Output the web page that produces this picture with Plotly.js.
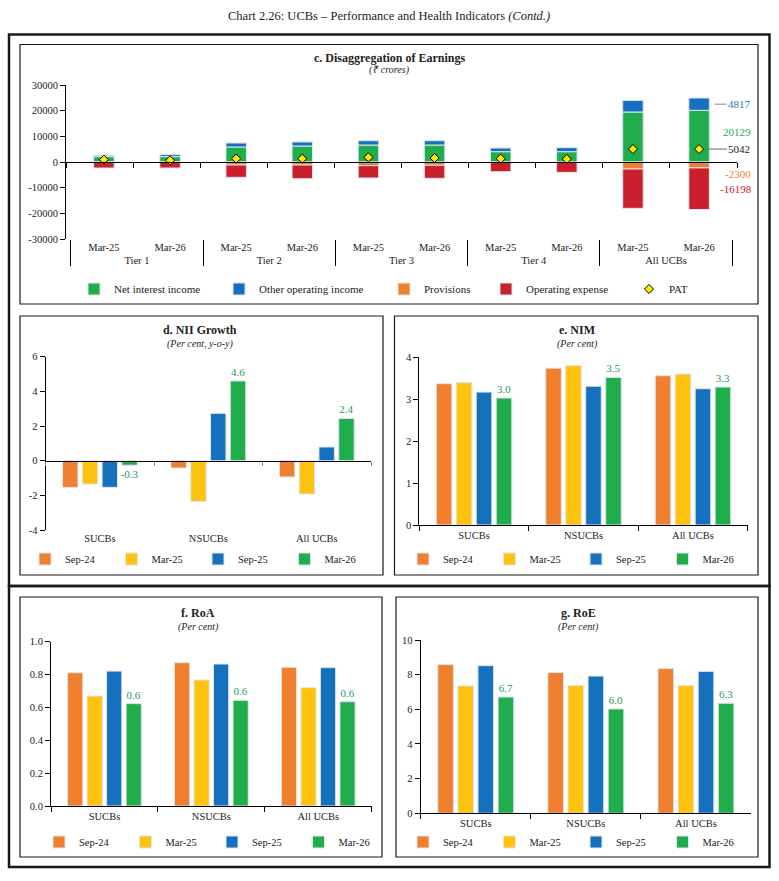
<!DOCTYPE html>
<html>
<head>
<meta charset="utf-8">
<script src="https://cdn.plot.ly/plotly-3.0.1.min.js"></script>
<style>html,body{margin:0;padding:0;background:#fff}#chart{width:779px;height:881px}</style>
</head>
<body>
<div id="chart"></div>
<script>
// ---------- DATA ----------
// Panel c: Disaggregation of Earnings (₹ crore)
const tiers   = ['Tier 1','Tier 1','Tier 2','Tier 2','Tier 3','Tier 3','Tier 4','Tier 4','All UCBs','All UCBs'];
const periods = ['Mar-25','Mar-26','Mar-25','Mar-26','Mar-25','Mar-26','Mar-25','Mar-26','Mar-25','Mar-26'];
const netInterestIncome    = [2080, 2080, 5850, 6230, 6620, 6620, 4030, 4030, 19480, 20129];
const otherOperatingIncome = [520, 780, 1550, 1570, 1680, 1680, 1420, 1550, 4520, 4817];
const provisions           = [-120, -120, -1170, -1170, -1430, -1300, -200, -200, -2730, -2300];
const operatingExpense     = [-2220, -2220, -4800, -5330, -4800, -5060, -3570, -3830, -15320, -16198];
const pat                  = [910, 650, 1300, 1300, 1820, 1560, 1300, 1170, 5060, 5042];
const cTickVals = [-30000,-20000,-10000,0,10000,20000,30000];
const cTickText = ['-30000','-20000','-10000','0','10000','20000','30000'];

// Panels d-g
const groups = ['SUCBs','NSUCBs','All UCBs'];
const seriesNames = ['Sep-24','Mar-25','Sep-25','Mar-26'];
const niiSep24 = [-1.54, -0.42, -0.94];
const niiMar25 = [-1.35, -2.35, -1.92];
const niiSep25 = [-1.54, 2.73, 0.79];
const niiMar26 = [-0.26, 4.6, 2.44];
const nimSep24 = [3.37, 3.74, 3.56];
const nimMar25 = [3.40, 3.80, 3.60];
const nimSep25 = [3.17, 3.31, 3.25];
const nimMar26 = [3.03, 3.52, 3.29];
const roaSep24 = [0.811, 0.872, 0.844];
const roaMar25 = [0.669, 0.767, 0.720];
const roaSep25 = [0.821, 0.864, 0.842];
const roaMar26 = [0.623, 0.643, 0.635];
const roeSep24 = [8.58, 8.12, 8.35];
const roeMar25 = [7.35, 7.38, 7.37];
const roeSep25 = [8.52, 7.92, 8.19];
const roeMar26 = [6.71, 6.02, 6.35];
const dTickVals = [-4,-2,0,2,4,6];
const dTickText = ['-4','-2','0','2','4','6'];

// ---------- STYLE ----------
const W = 779, H = 881;
const FONT = 'Liberation Serif, Times New Roman, serif';
const C = {green:'#1fae4b', blue:'#1570be', orange:'#f07f2e', red:'#c9202c', yellow:'#ffc20e', label:'#1f9d55'};
const seriesColors = [C.orange, C.yellow, C.blue, C.green];
const X = p => p / W;
const Y = p => 1 - p / H;
const barLine = {color:'#dde5ee', width:1};

// ---------- TRACES ----------
const xc = [tiers, periods];
const traces = [
  {type:'bar', name:'Net interest income', x:xc, y:netInterestIncome, base:0, offsetgroup:'c', width:0.31,
   marker:{color:C.green, line:barLine}, legend:'legend', hoverinfo:'skip'},
  {type:'bar', name:'Other operating income', x:xc, y:otherOperatingIncome, base:netInterestIncome, offsetgroup:'c', width:0.31,
   marker:{color:C.blue, line:barLine}, legend:'legend6', hoverinfo:'skip'},
  {type:'bar', name:'Provisions', x:xc, y:provisions, base:0, offsetgroup:'c', width:0.31,
   marker:{color:C.orange, line:barLine}, legend:'legend7', hoverinfo:'skip'},
  {type:'bar', name:'Operating expense', x:xc, y:operatingExpense, base:provisions, offsetgroup:'c', width:0.31,
   marker:{color:C.red, line:barLine}, legend:'legend8', hoverinfo:'skip'},
  {type:'scatter', mode:'markers', name:'PAT', x:xc, y:pat,
   marker:{symbol:'diamond', size:7, color:'#ffe800', line:{color:'#000', width:1}}, legend:'legend9', hoverinfo:'skip'},
  // helper traces that carry the zero-line axes of panels c and d
  {type:'scatter', mode:'lines', x:[0, tiers.length], y:[0,0], xaxis:'x6', yaxis:'y',
   line:{width:0}, opacity:0, showlegend:false, hoverinfo:'skip'},
  {type:'scatter', mode:'lines', x:[0, groups.length], y:[0,0], xaxis:'x7', yaxis:'y2',
   line:{width:0}, opacity:0, showlegend:false, hoverinfo:'skip'}
];

function panel(vals, xa, ya, lg){
  vals.forEach((v, i) => {
    const last = i === vals.length - 1;
    traces.push({
      type:'bar', name:seriesNames[i], x:groups, y:v, xaxis:xa, yaxis:ya, legend:lg,
      marker:{color:seriesColors[i], line:barLine},
      text: last ? v.map(n => n.toFixed(1)) : null,
      textposition: last ? 'outside' : 'none',
      textfont:{family:FONT, size:11, color:C.label},
      constraintext:'none', cliponaxis:false, hoverinfo:'skip'
    });
  });
}
panel([niiSep24, niiMar25, niiSep25, niiMar26], 'x2', 'y2', 'legend2');
panel([nimSep24, nimMar25, nimSep25, nimMar26], 'x3', 'y3', 'legend3');
panel([roaSep24, roaMar25, roaSep25, roaMar26], 'x4', 'y4', 'legend4');
panel([roeSep24, roeMar25, roeSep25, roeMar26], 'x5', 'y5', 'legend5');

// ---------- AXES ----------
const tf = {family:FONT, size:10.5, color:'#222'};
function yax(dom, extra){
  return Object.assign({domain:dom, showline:true, linecolor:'#000', linewidth:1, ticks:'outside', ticklen:5,
    tickcolor:'#000', showgrid:false, zeroline:false, tickfont:tf, fixedrange:true}, extra);
}
function xcat(dom, anchor, extra){
  return Object.assign({domain:dom, anchor:anchor, type:'category', showgrid:false, zeroline:false, tickfont:tf,
    showline:true, linecolor:'#000', linewidth:1, ticks:'outside', tickson:'boundaries', ticklen:5, tickcolor:'#000', fixedrange:true}, extra);
}
const cDomY = [Y(239), Y(85)];
const dDomY = [Y(530), Y(356.7)];
const cZero = cDomY[0] + (cDomY[1]-cDomY[0]) * (0 - (-30000)) / 60000;
const dZero = dDomY[0] + (dDomY[1]-dDomY[0]) * (0 - (-4)) / 10;
const catBounds = n => Array.from({length:n+1}, (_, i) => i);

const layout = {
  width:W, height:H, margin:{l:0, r:0, t:0, b:0},
  paper_bgcolor:'#fff', plot_bgcolor:'rgba(0,0,0,0)',
  font:{family:FONT, color:'#222'},
  barmode:'group', bargap:0.27, bargroupgap:0.22,
  xaxis: {domain:[X(66), X(737)], anchor:'y', type:'multicategory', showgrid:false, zeroline:false, showline:false,
          ticks:'', showdividers:true, dividercolor:'#000', dividerwidth:1, tickfont:tf, fixedrange:true},
  yaxis: yax(cDomY, {anchor:'x', range:[-30000,30000], tickvals:cTickVals, ticktext:cTickText}),
  xaxis6:{overlaying:'x', anchor:'free', position:cZero, range:[0, tiers.length], tickvals:catBounds(tiers.length),
          showticklabels:false, ticks:'outside', ticklen:5, tickcolor:'#000', showline:true, linecolor:'#000',
          showgrid:false, zeroline:false, fixedrange:true},
  xaxis2: xcat([X(45.7), X(371)], 'y2', {showline:false, ticks:''}),
  yaxis2: yax(dDomY, {anchor:'x2', range:[-4,6], tickvals:dTickVals, ticktext:dTickText}),
  xaxis7:{overlaying:'x2', anchor:'free', position:dZero, range:[0, groups.length], tickvals:catBounds(groups.length),
          showticklabels:false, ticks:'outside', ticklen:4, tickcolor:'#888', showline:true, linecolor:'#000',
          showgrid:false, zeroline:false, fixedrange:true},
  xaxis3: xcat([X(419.3), X(747.7)], 'y3'),
  yaxis3: yax([Y(525), Y(357.3)], {anchor:'x3', range:[0,4], dtick:1}),
  xaxis4: xcat([X(51), X(371.7)], 'y4'),
  yaxis4: yax([Y(806), Y(641.7)], {anchor:'x4', range:[0,1], dtick:0.2, tickformat:'.1f'}),
  xaxis5: xcat([X(420.7), X(751)], 'y5'),
  yaxis5: yax([Y(813.3), Y(640)], {anchor:'x5', range:[0,10], dtick:2}),
  showlegend:true
};

const lf = {family:FONT, size:10.5, color:'#222'};
function leg(x, y, extra){
  return Object.assign({orientation:'h', x:x, y:y, xanchor:'left', yanchor:'middle', font:lf,
    bgcolor:'rgba(0,0,0,0)', itemwidth:30, traceorder:'normal', itemclick:false, itemdoubleclick:false}, extra);
}
const lfc = {family:FONT, size:11, color:'#222'};
layout.legend  = leg(X(74), Y(289), {font:lfc});
layout.legend6 = leg(X(219), Y(289), {font:lfc});
layout.legend7 = leg(X(384), Y(289), {font:lfc});
layout.legend8 = leg(X(486), Y(289), {font:lfc});
layout.legend9 = leg(X(629), Y(289), {font:lfc});
layout.legend2 = leg(X(25), Y(559), {entrywidth:41.5});
layout.legend3 = leg(X(403), Y(559), {entrywidth:41.5});
layout.legend4 = leg(X(39), Y(842), {entrywidth:41.5});
layout.legend5 = leg(X(403), Y(842), {entrywidth:41.5});

// ---------- FRAMES ----------
const rect = (x0, y0, x1, y1, w) => ({type:'rect', xref:'paper', yref:'paper', x0:X(x0), x1:X(x1), y0:Y(y1), y1:Y(y0),
  line:{color:'#1a1a1a', width:w}, fillcolor:'rgba(0,0,0,0)', layer:'above'});
layout.shapes = [
  rect(9, 34.5, 769.5, 586, 2.5),
  rect(9, 586, 769.5, 867, 2.5),
  rect(20, 44.5, 758, 304, 1.2),
  rect(20, 316, 383, 575, 1.2),
  rect(394.5, 316, 758, 575, 1.2),
  rect(20, 597, 382, 857, 1.2),
  rect(396, 597, 758, 857, 1.2)
];

// ---------- TEXT ----------
const ann = (x, y, text, size, extra) => Object.assign({xref:'paper', yref:'paper', x:X(x), y:Y(y), text:text,
  showarrow:false, xanchor:'center', yanchor:'middle', font:{family:FONT, size:size, color:'#222'}}, extra);
const last = tiers.length - 1;
const lastX = last + 0.5;
const annotations = [
  ann(389, 16, 'Chart 2.26: UCBs – Performance and Health Indicators <i>(Contd.)</i>', 12.5),
  ann(389, 58.5, '<b>c. Disaggregation of Earnings</b>', 12),
  ann(389, 70.5, '<i>(₹ crores)</i>', 10),
  ann(200, 330, '<b>d. NII Growth</b>', 12),
  ann(200, 343.5, '<i>(Per cent, y-o-y)</i>', 10),
  ann(577, 330, '<b>e. NIM</b>', 12),
  ann(577, 343.5, '<i>(Per cent)</i>', 10),
  ann(198, 613, '<b>f. RoA</b>', 12),
  ann(198, 626.5, '<i>(Per cent)</i>', 10),
  ann(578, 613, '<b>g. RoE</b>', 12),
  ann(578, 626.5, '<i>(Per cent)</i>', 10),
  // data labels for All UCBs Mar-26
  {xref:'x6', yref:'y', x:lastX, y:netInterestIncome[last] + otherOperatingIncome[last]/2,
   text:String(otherOperatingIncome[last]), showarrow:true, arrowhead:0, arrowwidth:1, arrowcolor:'#888',
   ax:36, ay:0, standoff:11, font:{family:FONT, size:11, color:'#2f6fba'}},
  {xref:'x6', yref:'y', x:lastX, y:netInterestIncome[last]/2, yshift:4,
   text:String(netInterestIncome[last]), showarrow:false, xshift:34, font:{family:FONT, size:11, color:C.green}},
  {xref:'x6', yref:'y', x:lastX, y:pat[last],
   text:String(pat[last]), showarrow:true, arrowhead:0, arrowwidth:1, arrowcolor:'#666',
   ax:36, ay:0, standoff:4, font:{family:FONT, size:11, color:'#222'}},
  {xref:'x6', yref:'y', x:lastX, y:provisions[last]/2, yshift:-9,
   text:String(provisions[last]), showarrow:false, xshift:35, font:{family:FONT, size:11, color:C.orange}},
  {xref:'x6', yref:'y', x:lastX, y:provisions[last] + operatingExpense[last]/2,
   text:String(operatingExpense[last]), showarrow:false, xshift:33, font:{family:FONT, size:11, color:C.red}}
];
layout.annotations = annotations;

Plotly.newPlot('chart', traces, layout, {staticPlot:true, displayModeBar:false});
</script>
</body>
</html>
